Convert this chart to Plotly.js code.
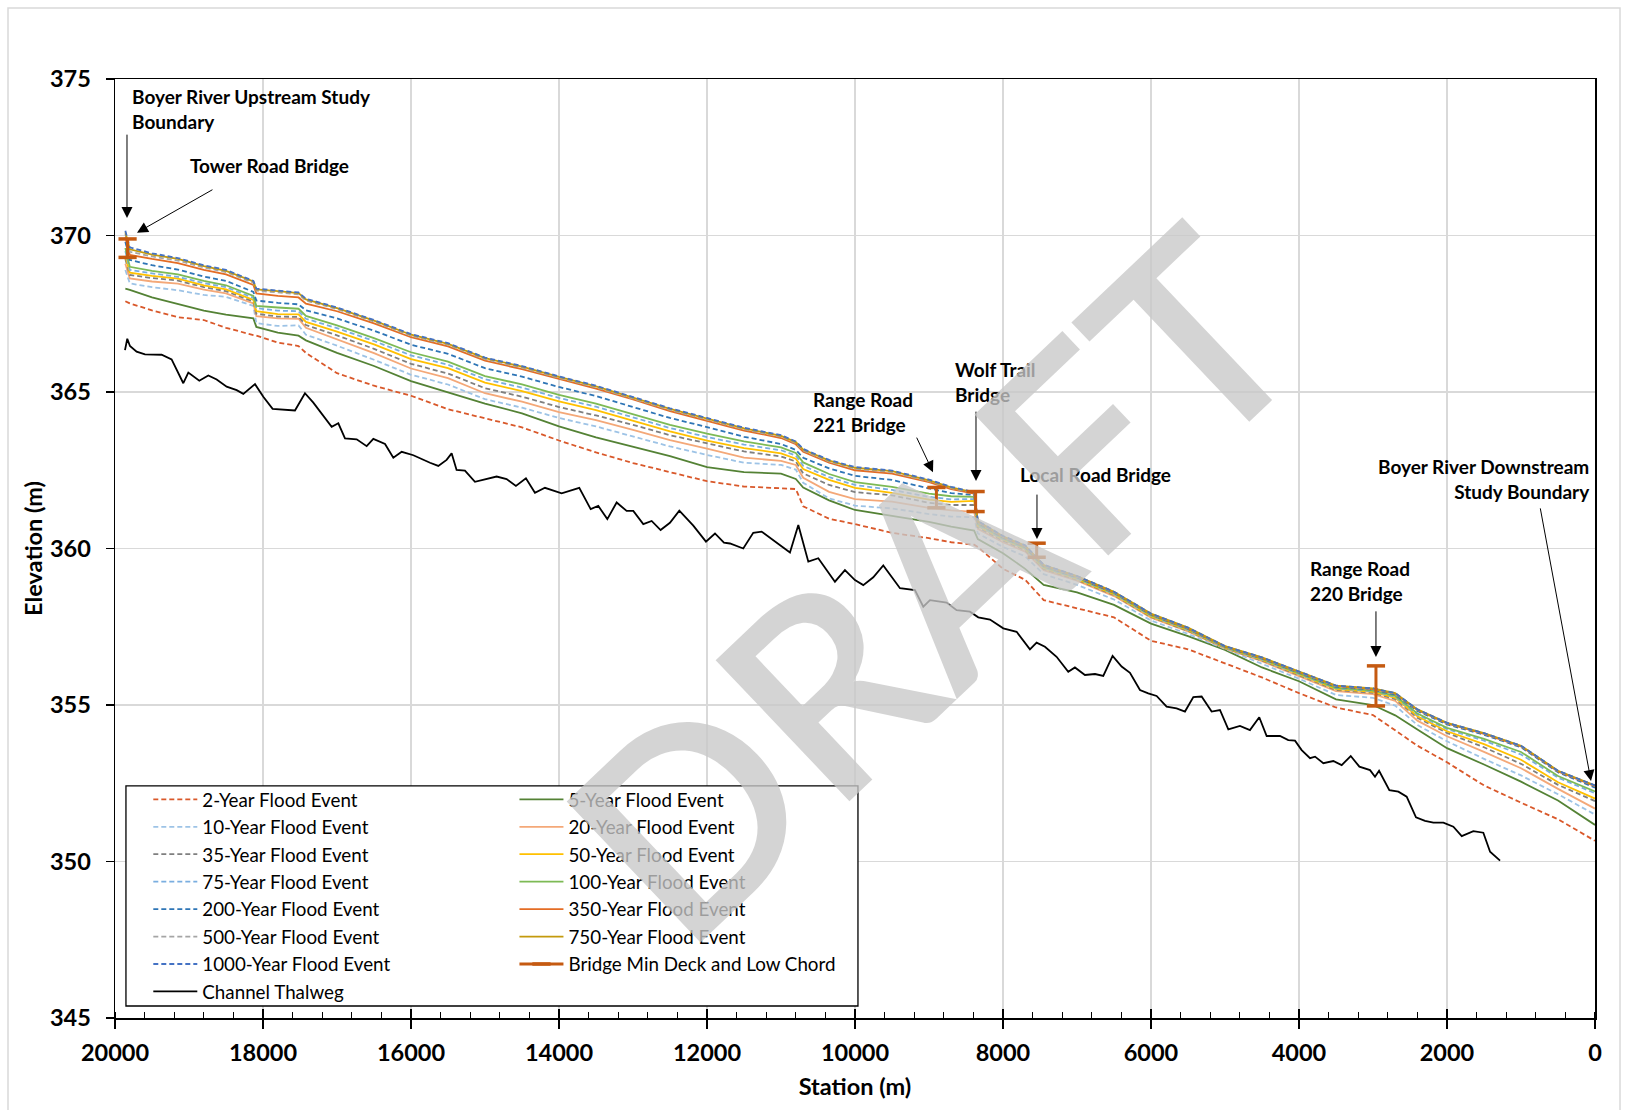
<!DOCTYPE html>
<html>
<head>
<meta charset="utf-8">
<script src="https://cdn.plot.ly/plotly-3.0.1.min.js"></script>
<style>
html,body{margin:0;padding:0;background:#ffffff;}
#chart{width:1628px;height:1110px;}
</style>
</head>
<body>
<div id="chart"></div>
<script>
// ---------- DATA ----------
const stations = [19860,19800,19500,19150,18800,18500,18130,18090,17800,17520,17420,17000,16500,16000,15500,15000,14500,14000,13500,13000,12500,12000,11500,11000,10800,10700,10350,10000,9500,9000,8700,8390,8340,8000,7700,7450,7000,6500,6000,5500,5000,4500,4000,3500,3000,2700,2400,2000,1500,1000,500,0];

const flood2 = [367.90,367.83,367.61,367.39,367.30,367.05,366.82,366.80,366.58,366.47,366.25,365.60,365.20,364.88,364.45,364.17,363.87,363.45,363.07,362.73,362.45,362.15,361.98,361.93,361.90,361.35,360.95,360.78,360.50,360.33,360.20,360.12,360.05,359.35,359.00,358.35,358.10,357.80,357.05,356.78,356.33,355.88,355.38,354.92,354.68,354.20,353.70,353.17,352.43,351.88,351.35,350.66];
const flood5 = [368.30,368.26,368.02,367.80,367.60,367.47,367.35,367.08,366.90,366.80,366.65,366.25,365.83,365.35,364.98,364.63,364.32,363.90,363.55,363.26,362.95,362.60,362.44,362.39,362.22,361.95,361.54,361.23,361.03,360.85,360.70,360.57,360.30,359.85,359.35,358.84,358.60,358.20,357.60,357.20,356.76,356.20,355.76,355.18,355.00,354.67,354.22,353.62,353.10,352.55,351.95,351.17];
const flood10 = [368.90,368.47,368.35,368.25,368.10,368.04,367.75,367.20,367.11,367.13,366.83,366.48,366.03,365.55,365.24,364.77,364.50,364.17,363.90,363.59,363.26,362.99,362.74,362.67,362.52,362.10,361.60,361.37,361.28,361.10,361.02,361.00,360.48,360.05,359.75,359.18,358.84,358.37,357.70,357.27,356.79,356.32,355.84,355.32,355.23,354.98,354.36,353.84,353.28,352.75,352.15,351.50];
const flood20 = [369.10,368.63,368.53,368.46,368.27,368.15,367.83,367.42,367.35,367.34,367.05,366.68,366.24,365.75,365.44,364.96,364.69,364.36,364.10,363.79,363.46,363.19,362.90,362.80,362.67,362.26,361.81,361.58,361.50,361.30,361.22,361.17,360.63,360.20,359.90,359.31,358.97,358.48,357.79,357.35,356.81,356.40,355.93,355.44,355.35,355.13,354.50,354.00,353.50,352.98,352.32,351.69];
const flood35 = [369.25,368.74,368.64,368.56,368.35,368.22,367.89,367.50,367.41,367.40,367.14,366.81,366.38,365.90,365.59,365.12,364.85,364.52,364.25,363.95,363.62,363.35,363.10,362.94,362.78,362.40,362.03,361.80,361.70,361.46,361.39,361.39,360.68,360.25,359.95,359.35,359.00,358.51,357.81,357.37,356.82,356.42,355.96,355.48,355.39,355.19,354.59,354.11,353.65,353.12,352.45,351.93];
const flood50 = [369.35,368.81,368.71,368.62,368.41,368.28,367.94,367.58,367.49,367.48,367.24,366.93,366.52,366.05,365.76,365.30,365.03,364.70,364.42,364.09,363.74,363.45,363.21,363.04,362.87,362.54,362.19,361.94,361.78,361.56,361.49,361.52,360.71,360.28,359.98,359.37,359.02,358.53,357.83,357.39,356.83,356.44,355.98,355.51,355.42,355.23,354.64,354.16,353.75,353.25,352.53,352.01];
const flood75 = [369.50,368.90,368.79,368.68,368.48,368.35,368.01,367.68,367.60,367.58,367.34,367.04,366.63,366.17,365.87,365.41,365.14,364.81,364.53,364.20,363.85,363.56,363.32,363.14,362.97,362.64,362.28,362.03,361.87,361.65,361.57,361.58,360.74,360.30,360.00,359.39,359.04,358.55,357.85,357.40,356.84,356.45,356.00,355.53,355.44,355.26,354.69,354.23,353.86,353.42,352.68,352.18];
const flood100 = [369.60,369.00,368.87,368.76,368.55,368.41,368.07,367.75,367.70,367.66,367.43,367.13,366.72,366.27,365.97,365.51,365.24,364.91,364.63,364.30,363.95,363.67,363.42,363.23,363.05,362.75,362.38,362.12,361.97,361.75,361.67,361.65,360.78,360.32,360.02,359.41,359.06,358.57,357.87,357.42,356.85,356.47,356.02,355.55,355.46,355.29,354.73,354.27,353.92,353.50,352.73,352.24];
const flood200 = [369.80,369.22,369.05,368.91,368.69,368.55,368.20,367.92,367.85,367.80,367.61,367.35,366.96,366.51,366.22,365.76,365.49,365.16,364.87,364.53,364.17,363.88,363.57,363.34,363.15,362.90,362.56,362.32,362.19,361.92,361.77,361.71,360.82,360.35,360.05,359.44,359.08,358.59,357.89,357.44,356.86,356.49,356.04,355.58,355.49,355.33,354.81,354.38,354.05,353.65,352.85,352.36];
const flood350 = [369.95,369.38,369.25,369.12,368.90,368.76,368.42,368.15,368.07,368.02,367.82,367.58,367.19,366.75,366.46,366.00,365.73,365.41,365.11,364.76,364.39,364.08,363.77,363.53,363.33,363.09,362.74,362.50,362.39,362.12,361.90,361.75,360.85,360.37,360.07,359.46,359.10,358.60,357.90,357.45,356.87,356.50,356.06,355.60,355.51,355.36,354.84,354.41,354.08,353.68,352.88,352.41];
const flood500 = [370.05,369.48,369.33,369.20,368.98,368.83,368.49,368.24,368.18,368.12,367.92,367.65,367.25,366.80,366.51,366.05,365.78,365.45,365.15,364.80,364.43,364.12,363.81,363.57,363.37,363.13,362.78,362.55,362.44,362.15,361.93,361.77,360.86,360.38,360.08,359.46,359.11,358.61,357.91,357.46,356.87,356.51,356.07,355.61,355.52,355.37,354.85,354.42,354.09,353.69,352.89,352.42];
const flood750 = [370.10,369.56,369.39,369.25,369.02,368.87,368.53,368.28,368.22,368.16,367.96,367.68,367.28,366.83,366.54,366.08,365.81,365.48,365.18,364.83,364.46,364.15,363.84,363.60,363.40,363.16,362.81,362.58,362.47,362.18,361.95,361.79,360.87,360.39,360.09,359.47,359.12,358.62,357.92,357.47,356.88,356.52,356.08,355.62,355.53,355.38,354.86,354.43,354.10,353.70,352.90,352.43];
const flood1000 = [370.15,369.62,369.43,369.28,369.05,368.90,368.55,368.30,368.24,368.18,367.98,367.70,367.30,366.85,366.56,366.10,365.83,365.50,365.20,364.85,364.48,364.17,363.86,363.62,363.42,363.18,362.83,362.60,362.49,362.20,361.97,361.80,360.88,360.40,360.10,359.48,359.12,358.62,357.92,357.47,356.88,356.52,356.08,355.62,355.53,355.38,354.86,354.43,354.10,353.70,352.90,352.43];

const thalwegStation = [19865,19834,19798,19708,19595,19370,19235,19077,19009,18861,18739,18626,18491,18356,18266,18108,17996,17870,17568,17433,17320,17072,16982,16892,16734,16599,16509,16351,16239,16126,15968,15879,15743,15631,15519,15451,15384,15271,15136,14843,14708,14582,14447,14325,14190,13964,13726,13572,13469,13347,13221,13086,12996,12861,12748,12627,12501,12374,12185,12014,11892,11771,11690,11510,11375,11262,10879,10766,10631,10496,10271,10136,10001,9888,9753,9618,9392,9190,9077,8987,8875,8762,8627,8447,8334,8176,7996,7816,7636,7546,7433,7276,7118,7028,6893,6757,6645,6519,6397,6284,6149,6037,5924,5789,5654,5541,5428,5316,5181,5068,4955,4798,4663,4537,4437,4257,4145,4054,3964,3851,3783,3671,3536,3423,3301,3184,3040,2973,2918,2779,2657,2545,2419,2297,2184,2049,1914,1801,1644,1509,1418,1283];
const thalwegElev = [366.34,366.70,366.47,366.29,366.20,366.19,366.04,365.28,365.62,365.36,365.53,365.40,365.17,365.06,364.94,365.25,364.85,364.46,364.41,364.96,364.66,363.89,364.00,363.52,363.49,363.27,363.50,363.34,362.90,363.09,362.98,362.88,362.74,362.64,362.83,363.04,362.51,362.49,362.13,362.30,362.22,362.00,362.24,361.78,361.94,361.76,361.94,361.26,361.36,360.94,361.47,361.20,361.20,360.78,360.88,360.59,360.82,361.21,360.73,360.22,360.48,360.19,360.16,360.00,360.50,360.54,359.87,360.75,359.58,359.69,358.94,359.31,358.99,358.83,359.08,359.46,358.73,358.67,358.14,358.35,358.30,358.27,358.03,357.98,357.80,357.73,357.45,357.34,356.78,356.99,356.86,356.54,356.06,356.20,355.96,355.99,355.93,356.57,356.23,356.03,355.48,355.37,355.29,354.95,354.89,354.79,355.25,355.27,354.79,354.84,354.22,354.33,354.20,354.61,354.01,354.01,353.88,353.86,353.56,353.30,353.35,353.14,353.21,353.08,353.37,353.03,352.92,352.71,352.90,352.28,352.23,352.07,351.41,351.30,351.24,351.24,351.11,350.81,350.97,350.92,350.31,350.03];

const bridgeNames = ['Tower Road Bridge','Range Road 221 Bridge','Wolf Trail Bridge','Local Road Bridge','Range Road 220 Bridge'];
const bridgeStation = [19830, 8900, 8370, 7545, 2960];
const bridgeDeck = [369.89, 361.95, 361.82, 360.17, 356.25];
const bridgeLowChord = [369.30, 361.30, 361.18, 359.72, 354.97];

const xTickVals = [20000,18000,16000,14000,12000,10000,8000,6000,4000,2000,0];
const yTickVals = [345,350,355,360,365,370,375];

// ---------- TRACES ----------
const FONT = 'Lato, "Open Sans", "Noto Sans", sans-serif';
const DASH = '5px,3px';
const series = [
  {name:'2-Year Flood Event',    y:flood2,    color:'#D9582A', dash:DASH,    legend:'legend'},
  {name:'5-Year Flood Event',    y:flood5,    color:'#548235', dash:'solid', legend:'legend2'},
  {name:'10-Year Flood Event',   y:flood10,   color:'#9DC3E6', dash:DASH,    legend:'legend'},
  {name:'20-Year Flood Event',   y:flood20,   color:'#F4A878', dash:'solid', legend:'legend2'},
  {name:'35-Year Flood Event',   y:flood35,   color:'#7F7F7F', dash:DASH,    legend:'legend'},
  {name:'50-Year Flood Event',   y:flood50,   color:'#FFC000', dash:'solid', legend:'legend2'},
  {name:'75-Year Flood Event',   y:flood75,   color:'#7AAEE0', dash:DASH,    legend:'legend'},
  {name:'100-Year Flood Event',  y:flood100,  color:'#7DBA55', dash:'solid', legend:'legend2'},
  {name:'200-Year Flood Event',  y:flood200,  color:'#2E75B6', dash:DASH,    legend:'legend'},
  {name:'350-Year Flood Event',  y:flood350,  color:'#E46C24', dash:'solid', legend:'legend2'},
  {name:'500-Year Flood Event',  y:flood500,  color:'#A5A5A5', dash:DASH,    legend:'legend'},
  {name:'750-Year Flood Event',  y:flood750,  color:'#C49A0C', dash:'solid', legend:'legend2'},
  {name:'1000-Year Flood Event', y:flood1000, color:'#4472C4', dash:DASH,    legend:'legend'}
];

const traces = series.map(s => ({
  type:'scatter', mode:'lines', name:s.name, x:stations, y:s.y,
  line:{color:s.color, width:1.8, dash:s.dash},
  legend:s.legend, legendgroup:s.name, hoverinfo:'skip'
}));

// bridges: vertical segment deck -> low chord for each bridge, separated by gaps
const bx = [], by = [];
bridgeStation.forEach((st, i) => {
  bx.push(st, st, null);
  by.push(bridgeDeck[i], bridgeLowChord[i], null);
});
traces.push({
  type:'scatter', mode:'lines+markers', name:'Bridge Min Deck and Low Chord',
  x:bx, y:by, connectgaps:false,
  line:{color:'#C55A11', width:3},
  marker:{symbol:'line-ew', size:13, color:'#C55A11', line:{color:'#C55A11', width:3.5}},
  legend:'legend2', legendgroup:'bridge', hoverinfo:'skip'
});
traces.push({
  type:'scatter', mode:'lines', name:'Channel Thalweg',
  x:thalwegStation, y:thalwegElev,
  line:{color:'#000000', width:1.8},
  legend:'legend', legendgroup:'thalweg', hoverinfo:'skip'
});
// helper trace to carry the inside half of the major x ticks
traces.push({type:'scatter', mode:'lines', x:[], y:[], xaxis:'x2', yaxis:'y', showlegend:false, hoverinfo:'skip'});

// ---------- ANNOTATIONS ----------
const labelFont = {family:FONT, size:19, color:'#000', weight:'bold'};
const labels = [
  {x:19801, y:374.03, text:'Boyer River Upstream Study<br>Boundary', xanchor:'left', align:'left'},
  {x:19014, y:372.25, text:'Tower Road Bridge', xanchor:'left', align:'left'},
  {x:10595, y:364.36, text:'Range Road<br>221 Bridge', xanchor:'left', align:'left'},
  {x:8676,  y:365.32, text:'Wolf Trail<br>Bridge', xanchor:'left', align:'left'},
  {x:7797,  y:362.35, text:'Local Road Bridge', xanchor:'left', align:'left'},
  {x:3879,  y:358.96, text:'Range Road<br>220 Bridge', xanchor:'left', align:'left'},
  {x:41,    y:362.22, text:'Boyer River Downstream<br>Study Boundary', xanchor:'right', align:'right'}
].map(a => Object.assign({xref:'x', yref:'y', yanchor:'middle', showarrow:false, font:labelFont}, a));

const arrows = [
  [19838,373.27,19838,370.56],
  [18663,371.49,19703,370.09],
  [9176,363.59,8946,362.44],
  [8365,364.42,8365,362.16],
  [7541,361.77,7541,360.30],
  [2960,358.04,2960,356.53],
  [743,361.33,54,352.57]
].map(a => ({
  xref:'x', yref:'y', axref:'x', ayref:'y',
  ax:a[0], ay:a[1], x:a[2], y:a[3], text:'',
  showarrow:true, arrowhead:2, arrowsize:2.2, arrowwidth:1, arrowcolor:'#000',
  standoff:0, startstandoff:0
}));

const watermark = {
  xref:'paper', yref:'paper', x:0.551, y:0.465, xanchor:'center', yanchor:'middle',
  text:'DRAFT', showarrow:false, textangle:-43.5,
  font:{family:FONT, size:270, color:'rgba(200,200,200,0.78)', weight:600}
};

// ---------- LAYOUT ----------
const layout = {
  width:1628, height:1110,
  margin:{l:115, r:33, t:79, b:92},
  paper_bgcolor:'#ffffff', plot_bgcolor:'#ffffff',
  font:{family:FONT, color:'#000'},
  showlegend:true,
  xaxis:{
    range:[20000,0], tickmode:'array', tickvals:xTickVals, ticktext:xTickVals.map(String),
    showgrid:true, gridcolor:'#d9d9d9', gridwidth:1.3, zeroline:false,
    showline:true, linecolor:'#000', linewidth:1.5, mirror:true,
    ticks:'outside', ticklen:9, tickwidth:1.5, tickcolor:'#000', ticklabelstandoff:4,
    minor:{dtick:400, tick0:0, ticks:'inside', ticklen:6, tickwidth:1.3, tickcolor:'#000', showgrid:false},
    tickfont:{family:FONT, size:23.5, weight:'bold'},
    title:{text:'Station (m)', font:{family:FONT, size:23.5, weight:'bold'}, standoff:14}
  },
  xaxis2:{
    overlaying:'x', anchor:'y', side:'bottom', range:[20000,0],
    tickmode:'array', tickvals:xTickVals, ticks:'inside', ticklen:9, tickwidth:1.5, tickcolor:'#000',
    showticklabels:false, showgrid:false, showline:false, zeroline:false
  },
  yaxis:{
    range:[345,375], tickmode:'array', tickvals:yTickVals, ticktext:yTickVals.map(String),
    showgrid:true, gridcolor:'#d9d9d9', gridwidth:1.3, zeroline:false,
    showline:true, linecolor:'#000', linewidth:1.5, mirror:true,
    ticks:'outside', ticklen:8, tickwidth:1.5, tickcolor:'#000', ticklabelstandoff:10,
    tickfont:{family:FONT, size:23.5, weight:'bold'},
    title:{text:'Elevation (m)', font:{family:FONT, size:23.5, weight:'bold'}, standoff:0}
  },
  legend:{
    x:0.0225, y:0.2528, xanchor:'left', yanchor:'top', orientation:'v',
    bgcolor:'rgba(0,0,0,0)', borderwidth:0, itemwidth:44, tracegroupgap:0,
    font:{family:FONT, size:18.8, color:'#000'}
  },
  legend2:{
    x:0.2699, y:0.2528, xanchor:'left', yanchor:'top', orientation:'v',
    bgcolor:'rgba(0,0,0,0)', borderwidth:0, itemwidth:44, tracegroupgap:0,
    font:{family:FONT, size:18.8, color:'#000'}
  },
  shapes:[
    {type:'rect', xref:'paper', yref:'paper', x0:0.0074, x1:0.502, y0:0.0128, y1:0.2471,
     fillcolor:'#ffffff', line:{color:'#000', width:1.3}, layer:'above'},
    {type:'rect', xref:'paper', yref:'paper', x0:-0.0723, x1:1.0169, y0:-0.12, y1:1.0756,
     fillcolor:'rgba(0,0,0,0)', line:{color:'#d9d9d9', width:1.5}, layer:'below'}
  ],
  annotations: labels.concat(arrows).concat([watermark])
};

Plotly.newPlot('chart', traces, layout, {staticPlot:true, displayModeBar:false});
</script>
</body>
</html>
